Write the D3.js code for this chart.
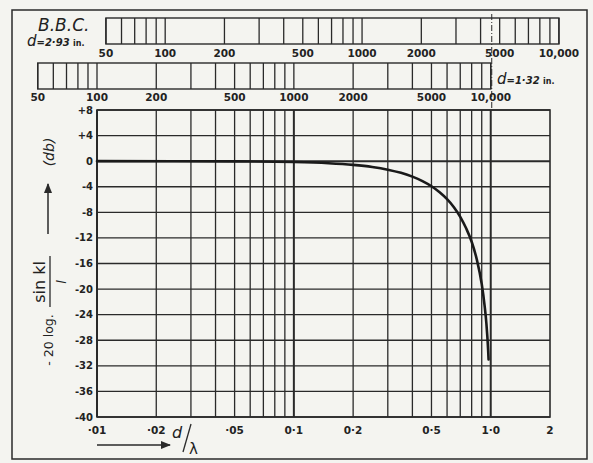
<!DOCTYPE html>
<html>
<head>
<meta charset="utf-8">
<script src="https://cdn.jsdelivr.net/npm/d3@7"></script>
<style>
  body { margin: 0; background: #f4f4f0; }
  text { font-family: "DejaVu Sans", sans-serif; fill: #222; }
</style>
</head>
<body>
<div id="chart"></div>
<script>

// curve: d/lambda against response in dB
var ratio = [0.01, 0.05, 0.1, 0.15, 0.2, 0.25, 0.3, 0.35, 0.4, 0.45, 0.5, 0.55, 0.6, 0.65, 0.7, 0.75, 0.8, 0.85, 0.9, 0.93, 0.95, 0.97, 0.975];
var response = [0, -0.04, -0.14, -0.32, -0.58, -0.91, -1.33, -1.83, -2.42, -3.12, -3.92, -4.86, -5.94, -7.2, -8.7, -10.5, -12.6, -15.4, -19.2, -22.5, -25.3, -29.5, -31];

var xTicks = [0.01, 0.02, 0.05, 0.1, 0.2, 0.5, 1, 2];
var xTickLabels = ["·01", "·02", "·05", "0·1", "0·2", "0·5", "1·0", "2"];
var yTicks = [8, 4, 0, -4, -8, -12, -16, -20, -24, -28, -32, -36, -40];
var yTickLabels = ["+8", "+4", "0", "-4", "-8", "-12", "-16", "-20", "-24", "-28", "-32", "-36", "-40"];

var freqTicks = [50, 100, 200, 500, 1000, 2000, 5000, 10000];
var freqTickLabels = ["50", "100", "200", "500", "1000", "2000", "5000", "10,000"];

// d/lambda per Hz for the two spacings (2.93 in. and 1.32 in.)
var kWide = 2.22e-4;
var kNarrow = 1.0e-4;

var width = 593, height = 463;
var ink = "#2a2a2a";

var svg = d3.select("#chart").append("svg")
    .attr("width", width)
    .attr("height", height);

// outer frame
svg.append("rect")
    .attr("x", 12).attr("y", 10)
    .attr("width", 575).attr("height", 449)
    .attr("fill", "none")
    .attr("stroke", ink)
    .attr("stroke-width", 1.5);

var x = d3.scaleLog().domain([0.01, 2]).range([97, 550]);
var y = d3.scaleLinear().domain([-40, 8]).range([417, 110]);

// all the 1..9 lines of each decade
function logLines(lo, hi) {
    var out = [];
    for (var p = Math.floor(Math.log10(lo)); p <= Math.ceil(Math.log10(hi)); p++) {
        for (var m = 1; m < 10; m++) {
            var v = m * Math.pow(10, p);
            if (v >= lo * 0.999 && v <= hi * 1.001) out.push(v);
        }
    }
    return out;
}

// ---- main grid ----
var grid = svg.append("g");

grid.selectAll(".vline")
    .data(logLines(0.01, 1))
    .enter().append("line")
    .attr("class", "vline")
    .attr("x1", d => x(d)).attr("x2", d => x(d))
    .attr("y1", y(8)).attr("y2", y(-40))
    .attr("stroke", ink)
    .attr("stroke-width", d => (Math.abs(Math.log10(d) - Math.round(Math.log10(d))) < 1e-6) ? 2 : 1.3);

grid.selectAll(".hline")
    .data(yTicks)
    .enter().append("line")
    .attr("class", "hline")
    .attr("x1", x(0.01)).attr("x2", x(2))
    .attr("y1", d => y(d)).attr("y2", d => y(d))
    .attr("stroke", ink)
    .attr("stroke-width", d => d === 0 ? 2 : 1.4);

grid.append("rect")
    .attr("x", x(0.01)).attr("y", y(8))
    .attr("width", x(2) - x(0.01)).attr("height", y(-40) - y(8))
    .attr("fill", "none")
    .attr("stroke", ink)
    .attr("stroke-width", 1.6);

// dash-dot line carried up from d/lambda = 1
svg.append("line")
    .attr("x1", x(1) + 1).attr("x2", x(1) + 1)
    .attr("y1", 14).attr("y2", y(8))
    .attr("stroke", ink)
    .attr("stroke-width", 1)
    .attr("stroke-dasharray", "6,2,1,2");

// ---- tick labels ----
svg.selectAll(".ylab")
    .data(yTicks)
    .enter().append("text")
    .attr("class", "ylab")
    .attr("x", 93)
    .attr("y", d => y(d))
    .attr("dy", "0.35em")
    .attr("text-anchor", "end")
    .attr("font-size", 10)
    .attr("font-weight", "bold")
    .text((d, i) => yTickLabels[i]);

svg.selectAll(".xlab")
    .data(xTicks)
    .enter().append("text")
    .attr("class", "xlab")
    .attr("x", d => x(d))
    .attr("y", 434)
    .attr("text-anchor", "middle")
    .attr("font-size", 10.5)
    .attr("font-weight", "bold")
    .text((d, i) => xTickLabels[i]);

// ---- frequency scales at the top ----
function freqScale(k, top, labelY) {
    var f = d3.scaleLog().domain([50, 10000]).range([x(50 * k), x(10000 * k)]);
    var g = svg.append("g");
    g.selectAll("line")
        .data(logLines(50, 10000))
        .enter().append("line")
        .attr("x1", d => f(d)).attr("x2", d => f(d))
        .attr("y1", top).attr("y2", top + 26)
        .attr("stroke", ink)
        .attr("stroke-width", 1.3);
    g.append("rect")
        .attr("x", f(50)).attr("y", top)
        .attr("width", f(10000) - f(50)).attr("height", 26)
        .attr("fill", "none")
        .attr("stroke", ink)
        .attr("stroke-width", 1.4);
    g.selectAll("text")
        .data(freqTicks)
        .enter().append("text")
        .attr("x", d => f(d))
        .attr("y", labelY)
        .attr("text-anchor", "middle")
        .attr("font-size", 10.5)
        .attr("font-weight", "bold")
        .text((d, i) => freqTickLabels[i]);
}
freqScale(kWide, 18, 57);
freqScale(kNarrow, 63, 101);

// ---- the response curve ----
var line = d3.line()
    .x(d => x(d[0]))
    .y(d => y(d[1]))
    .curve(d3.curveMonotoneX);

svg.append("path")
    .datum(ratio.map((r, i) => [r, response[i]]))
    .attr("d", line)
    .attr("fill", "none")
    .attr("stroke", "#1a1a1a")
    .attr("stroke-width", 2.6)
    .attr("stroke-linecap", "round");

// ---- labels ----
svg.append("text")
    .attr("x", 38).attr("y", 31)
    .attr("font-size", 17)
    .attr("font-style", "italic")
    .text("B.B.C.");

var wide = svg.append("text")
    .attr("x", 27).attr("y", 46)
    .attr("font-style", "italic")
    .attr("font-weight", "bold");
wide.append("tspan").attr("font-size", 15).attr("font-weight", "normal").text("d");
wide.append("tspan").attr("font-size", 10).text("=2·93 ");
wide.append("tspan").attr("font-size", 8).attr("font-style", "normal").text("in.");

var narrow = svg.append("text")
    .attr("x", 497).attr("y", 84)
    .attr("font-style", "italic")
    .attr("font-weight", "bold");
narrow.append("tspan").attr("font-size", 15).attr("font-weight", "normal").text("d");
narrow.append("tspan").attr("font-size", 10).text("=1·32 ");
narrow.append("tspan").attr("font-size", 8).attr("font-style", "normal").text("in.");

// arrow heads
svg.append("defs").append("marker")
    .attr("id", "arrow")
    .attr("viewBox", "0 -5 10 10")
    .attr("refX", 9).attr("refY", 0)
    .attr("markerWidth", 7).attr("markerHeight", 7)
    .attr("orient", "auto")
    .append("path")
    .attr("d", "M0,-4L10,0L0,4Z")
    .attr("fill", ink);

// y axis title, written sideways
var yTitle = svg.append("g");
yTitle.append("text")
    .attr("transform", "translate(49,340) rotate(-90)")
    .attr("text-anchor", "middle")
    .attr("dy", "0.35em")
    .attr("font-size", 12.5)
    .text("- 20 log.");
yTitle.append("text")
    .attr("transform", "translate(45,282) rotate(-90)")
    .attr("text-anchor", "middle")
    .attr("font-size", 16)
    .text("sin kl");
yTitle.append("line")
    .attr("x1", 50).attr("x2", 50)
    .attr("y1", 256).attr("y2", 307)
    .attr("stroke", ink).attr("stroke-width", 1.3);
yTitle.append("text")
    .attr("transform", "translate(61,282) rotate(-90)")
    .attr("text-anchor", "middle")
    .attr("dy", "0.35em")
    .attr("font-size", 13)
    .attr("font-style", "italic")
    .text("l");
yTitle.append("line")
    .attr("x1", 48).attr("x2", 48)
    .attr("y1", 234).attr("y2", 184)
    .attr("stroke", ink).attr("stroke-width", 1.5)
    .attr("marker-end", "url(#arrow)");
yTitle.append("text")
    .attr("transform", "translate(49,152) rotate(-90)")
    .attr("text-anchor", "middle")
    .attr("dy", "0.35em")
    .attr("font-size", 14)
    .attr("font-style", "italic")
    .text("(db)");

// x axis title
svg.append("line")
    .attr("x1", 97).attr("x2", 170)
    .attr("y1", 445).attr("y2", 445)
    .attr("stroke", ink).attr("stroke-width", 1.5)
    .attr("marker-end", "url(#arrow)");
svg.append("text")
    .attr("x", 172).attr("y", 438)
    .attr("font-size", 16)
    .attr("font-style", "italic")
    .text("d");
svg.append("line")
    .attr("x1", 191).attr("x2", 183)
    .attr("y1", 424).attr("y2", 452)
    .attr("stroke", ink).attr("stroke-width", 1.3);
svg.append("text")
    .attr("x", 189).attr("y", 454)
    .attr("font-size", 15)
    .text("λ");

</script>
</body>
</html>
